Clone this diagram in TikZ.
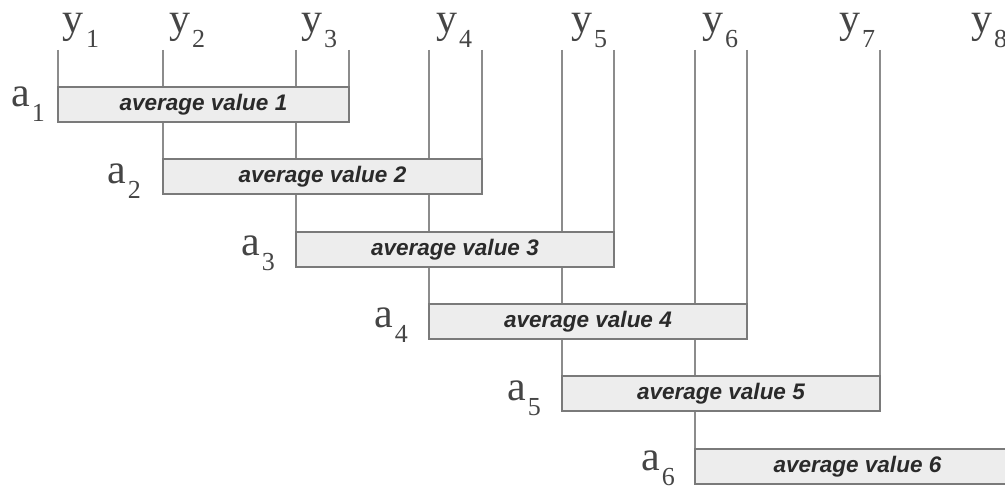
\documentclass[tikz,border=0pt]{standalone}
\usepackage{fontspec}
\setmainfont{Liberation Serif}
\newfontfamily\boxfont{Liberation Sans}
\usetikzlibrary{backgrounds}
\definecolor{linegray}{HTML}{8C8C8C}
\definecolor{boxgray}{HTML}{7A7A7A}
\definecolor{boxfill}{HTML}{EDEDED}
\definecolor{txtgray}{HTML}{2A2A2A}
\definecolor{labgray}{HTML}{454545}
\newcommand{\subl}[1]{\raisebox{-15pt}{\fontsize{26}{26}\selectfont #1}}
\begin{document}
\begin{tikzpicture}[x=1pt,y=-1pt,
  vline/.style={draw=linegray, line width=1.1pt},
  avgbox/.style={draw=boxgray, fill=boxfill, line width=1.1pt, minimum height=35pt,
    anchor=north west, inner sep=0pt, outer sep=0pt, text=txtgray,
    font=\boxfont\bfseries\itshape\fontsize{22.5}{22.5}\selectfont},
  lab/.style={anchor=base west, inner sep=0pt, text=labgray,
    font=\fontsize{42}{42}\selectfont},
]
\useasboundingbox (0,0) rectangle (1005,489);
% boxes
\node[avgbox, minimum width=291pt] (b1) at (58,87)  {average value 1};
\node[avgbox, minimum width=319pt] (b2) at (163,159) {average value 2};
\node[avgbox, minimum width=318pt] (b3) at (296,232) {average value 3};
\node[avgbox, minimum width=318pt] (b4) at (429,304) {average value 4};
\node[avgbox, minimum width=318pt] (b5) at (562,376) {average value 5};
\node[avgbox, minimum width=325pt] (b6) at (695,449) {average value 6};
% top ends of the vertical lines
\coordinate (t1) at (58,50);
\coordinate (t2) at (349,50);
\coordinate (t3) at (163,50);
\coordinate (t4) at (482,50);
\coordinate (t5) at (296,50);
\coordinate (t6) at (614,50);
\coordinate (t7) at (429,50);
\coordinate (t8) at (747,50);
\coordinate (t9) at (562,50);
\coordinate (t10) at (880,50);
\coordinate (t11) at (695,50);
\begin{scope}[on background layer]
\draw[vline] (t1) -- (b1.north west);
\draw[vline] (t2) -- (b1.north east);
\draw[vline] (t3) -- (b2.north west);
\draw[vline] (t4) -- (b2.north east);
\draw[vline] (t5) -- (b3.north west);
\draw[vline] (t6) -- (b3.north east);
\draw[vline] (t7) -- (b4.north west);
\draw[vline] (t8) -- (b4.north east);
\draw[vline] (t9) -- (b5.north west);
\draw[vline] (t10) -- (b5.north east);
\draw[vline] (t11) -- (b6.north west);
\end{scope}
% y labels
\node[lab] (y1) at (62,33)  {y\kern3pt\subl{1}};
\node[lab] (y2) at (169,33) {y\kern2pt\subl{2}};
\node[lab] (y3) at (301,33) {y\kern2pt\subl{3}};
\node[lab] (y4) at (436,33) {y\kern2pt\subl{4}};
\node[lab] (y5) at (571,33) {y\kern2pt\subl{5}};
\node[lab] (y6) at (702,33) {y\kern2pt\subl{6}};
\node[lab] (y7) at (839,33) {y\kern2pt\subl{7}};
\node[lab] (y8) at (971,33) {y\kern2pt\subl{8}};
% a labels
\node[lab] (a1) at (11,107)  {a\kern2pt\subl{1}};
\node[lab] (a2) at (107,184) {a\kern2pt\subl{2}};
\node[lab] (a3) at (241,256) {a\kern2pt\subl{3}};
\node[lab] (a4) at (374,327) {a\kern2pt\subl{4}};
\node[lab] (a5) at (507,400) {a\kern2pt\subl{5}};
\node[lab] (a6) at (641,470) {a\kern2pt\subl{6}};
\end{tikzpicture}
\end{document}
